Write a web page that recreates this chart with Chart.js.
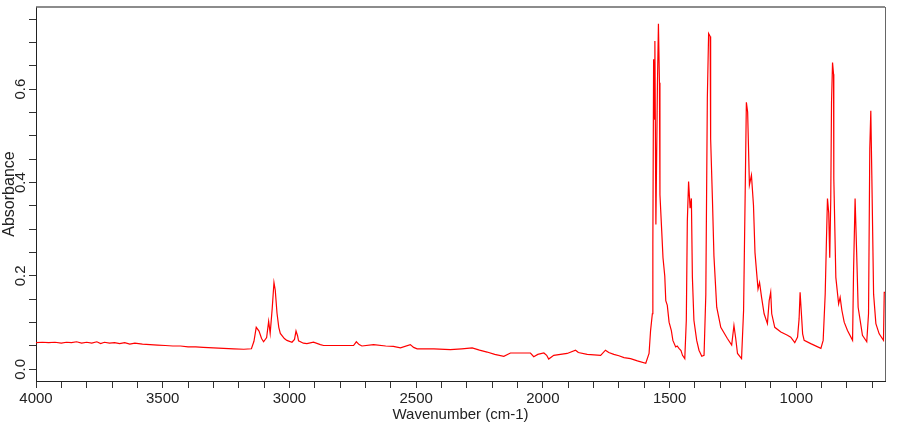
<!DOCTYPE html>
<html>
<head>
<meta charset="utf-8">
<title>IR spectrum</title>
<script src="https://cdn.jsdelivr.net/npm/chart.js@4.4.0/dist/chart.umd.min.js"></script>
<style>
  body { margin: 0; background: #fff; }
</style>
</head>
<body>
<canvas id="irChart" width="910" height="425"></canvas>
<script>
// wavenumber (cm-1)
const waveNumbers = [
    4000, 3975, 3950, 3925, 3900, 3880, 3860, 3840, 3820, 3800, 3780, 3760, 3745, 3730, 3710, 3690,
    3670, 3650, 3630, 3610, 3580, 3550, 3520, 3490, 3460, 3430, 3400, 3370, 3340, 3300, 3260, 3220,
    3180, 3150, 3140, 3131, 3120, 3110, 3102, 3090, 3082, 3076, 3068, 3061, 3056, 3049, 3042, 3036,
    3020, 3010, 2990, 2980, 2974, 2968, 2964, 2945, 2931, 2905, 2878, 2865, 2839, 2790, 2747, 2736,
    2725, 2714, 2668, 2620, 2590, 2562, 2523, 2510, 2496, 2430, 2365, 2320, 2279, 2250, 2220, 2190,
    2154, 2128, 2090, 2049, 2036, 2020, 1996, 1985, 1977, 1957, 1904, 1871, 1860, 1825, 1772, 1753,
    1740, 1720, 1700, 1680, 1654, 1627, 1594, 1581, 1575, 1568, 1566, 1563, 1559, 1558, 1554, 1548,
    1544, 1540, 1538, 1531, 1526, 1519, 1515, 1509, 1502, 1493, 1487, 1476, 1470, 1463, 1455, 1449,
    1440, 1434, 1430, 1425, 1419, 1414, 1410, 1404, 1393, 1384, 1373, 1364, 1357, 1351, 1346, 1340,
    1338, 1331, 1325, 1314, 1298, 1272, 1255, 1246, 1239, 1232, 1216, 1208, 1202, 1197, 1192, 1185,
    1177, 1169, 1163, 1156, 1151, 1145, 1137, 1127, 1114, 1107, 1101, 1097, 1085, 1061, 1035, 1022,
    1006, 995, 989, 985, 982, 975, 969, 943, 903, 894, 886, 881, 877, 872, 868, 864,
    861, 857, 853, 852, 844, 833, 827, 820, 811, 798, 778, 774, 768, 762, 756, 748,
    739, 722, 715, 710, 706, 702, 695, 686, 673, 656, 653, 650
];

const absorbance = [
    0.057, 0.058, 0.057, 0.058, 0.056, 0.058, 0.057, 0.059, 0.056, 0.058, 0.056, 0.059, 0.055, 0.058, 0.056, 0.057,
    0.055, 0.057, 0.054, 0.056, 0.054, 0.053, 0.052, 0.051, 0.050, 0.050, 0.048, 0.048, 0.047, 0.046, 0.045, 0.044,
    0.043, 0.044, 0.060, 0.090, 0.082, 0.066, 0.059, 0.068, 0.103, 0.077, 0.130, 0.186, 0.170, 0.120, 0.090, 0.077,
    0.066, 0.062, 0.058, 0.064, 0.082, 0.072, 0.061, 0.056, 0.055, 0.058, 0.053, 0.051, 0.051, 0.051, 0.051, 0.059,
    0.053, 0.050, 0.053, 0.050, 0.049, 0.046, 0.053, 0.047, 0.044, 0.044, 0.042, 0.044, 0.046, 0.041, 0.037, 0.032,
    0.028, 0.035, 0.035, 0.035, 0.027, 0.032, 0.035, 0.030, 0.022, 0.030, 0.034, 0.041, 0.036, 0.032, 0.030, 0.041,
    0.036, 0.032, 0.029, 0.025, 0.023, 0.018, 0.013, 0.034, 0.083, 0.119, 0.268, 0.664, 0.536, 0.703, 0.310, 0.607,
    0.740, 0.614, 0.374, 0.296, 0.239, 0.200, 0.147, 0.137, 0.101, 0.083, 0.062, 0.048, 0.050, 0.045, 0.040, 0.030,
    0.023, 0.105, 0.317, 0.402, 0.345, 0.366, 0.197, 0.105, 0.062, 0.041, 0.028, 0.030, 0.161, 0.582, 0.719, 0.713,
    0.494, 0.366, 0.243, 0.133, 0.090, 0.066, 0.052, 0.094, 0.066, 0.034, 0.023, 0.126, 0.366, 0.572, 0.551, 0.395,
    0.416, 0.352, 0.250, 0.204, 0.172, 0.186, 0.154, 0.119, 0.098, 0.147, 0.165, 0.119, 0.090, 0.080, 0.073, 0.069,
    0.057, 0.069, 0.108, 0.165, 0.165, 0.076, 0.062, 0.055, 0.045, 0.062, 0.161, 0.278, 0.366, 0.335, 0.239, 0.366,
    0.572, 0.657, 0.632, 0.409, 0.197, 0.140, 0.154, 0.126, 0.101, 0.083, 0.062, 0.211, 0.366, 0.253, 0.133, 0.105,
    0.073, 0.059, 0.119, 0.473, 0.554, 0.416, 0.161, 0.098, 0.076, 0.062, 0.165, 0.165
];

// axis ticks
const xTickValues = [];
for (let v = 4000; v >= 700; v -= 100) xTickValues.push(v);
const xTickLabels = [4000, 3500, 3000, 2500, 2000, 1500, 1000];
const yTickValues = [0, 0.05, 0.1, 0.15, 0.2, 0.25, 0.3, 0.35, 0.4, 0.45, 0.5, 0.55, 0.6, 0.65, 0.7, 0.75];
const yTickLabels = ['0.0', '0.2', '0.4', '0.6'];

const xRange = [650, 4000];
const yRange = [-0.025, 0.776];

// top and right edges of the plot frame
const framePlugin = {
    id: 'frame',
    afterDraw(chart) {
        const { ctx, chartArea: a } = chart;
        ctx.save();
        ctx.strokeStyle = '#666';
        ctx.lineWidth = 1.5;
        ctx.beginPath();
        ctx.moveTo(a.left, a.top);
        ctx.lineTo(a.right, a.top);
        ctx.stroke();
        ctx.lineWidth = 1;
        ctx.beginPath();
        ctx.moveTo(a.right + 0.5, a.top);
        ctx.lineTo(a.right + 0.5, a.bottom);
        ctx.stroke();
        ctx.restore();
    }
};

const ctx = document.getElementById('irChart').getContext('2d');
const irChart = new Chart(ctx, {
    type: 'line',
    data: {
        datasets: [{
            data: waveNumbers.map((w, i) => ({ x: w, y: absorbance[i] })),
            borderColor: '#ff0000',
            borderWidth: 1.2,
            pointRadius: 0,
            tension: 0,
            fill: false
        }]
    },
    options: {
        responsive: false,
        animation: false,
        layout: { padding: { top: 4, right: 25, left: 0, bottom: 0 } },
        plugins: {
            legend: { display: false },
            tooltip: { enabled: false }
        },
        scales: {
            x: {
                type: 'linear',
                reverse: true,
                min: xRange[0],
                max: xRange[1],
                afterBuildTicks: s => { s.ticks = xTickValues.map(v => ({ value: v })); },
                afterFit: s => { s.height = 44; },
                grid: { display: true, drawOnChartArea: false, drawTicks: true, tickLength: 7, color: '#333' },
                border: { display: true, color: '#222', width: 1 },
                ticks: {
                    autoSkip: false,
                    maxRotation: 0,
                    padding: 2,
                    color: '#222',
                    font: { family: 'Liberation Sans, Arial', size: 15 },
                    callback: v => xTickLabels.includes(v) ? String(v) : ''
                },
                title: {
                    display: true,
                    text: 'Wavenumber (cm-1)',
                    color: '#222',
                    font: { family: 'Liberation Sans, Arial', size: 15 },
                    padding: { top: 0, bottom: 1 }
                }
            },
            y: {
                min: yRange[0],
                max: yRange[1],
                afterBuildTicks: s => { s.ticks = yTickValues.map(v => ({ value: v })); },
                afterFit: s => { s.width = 36; },
                grid: { display: true, drawOnChartArea: false, drawTicks: true, tickLength: 7, color: '#333' },
                border: { display: true, color: '#222', width: 1 },
                ticks: {
                    autoSkip: false,
                    minRotation: 90,
                    maxRotation: 90,
                    crossAlign: 'center',
                    padding: -2,
                    color: '#222',
                    font: { family: 'Liberation Sans, Arial', size: 15 },
                    callback: v => {
                        const s = v.toFixed(1);
                        return (yTickLabels.includes(s) && Math.abs(v - Number(s)) < 1e-6) ? s : '';
                    }
                },
                title: {
                    display: true,
                    text: 'Absorbance',
                    color: '#222',
                    font: { family: 'Liberation Sans, Arial', size: 16 },
                    padding: { top: 0, bottom: 0 }
                }
            }
        }
    },
    plugins: [framePlugin]
});
</script>
</body>
</html>
